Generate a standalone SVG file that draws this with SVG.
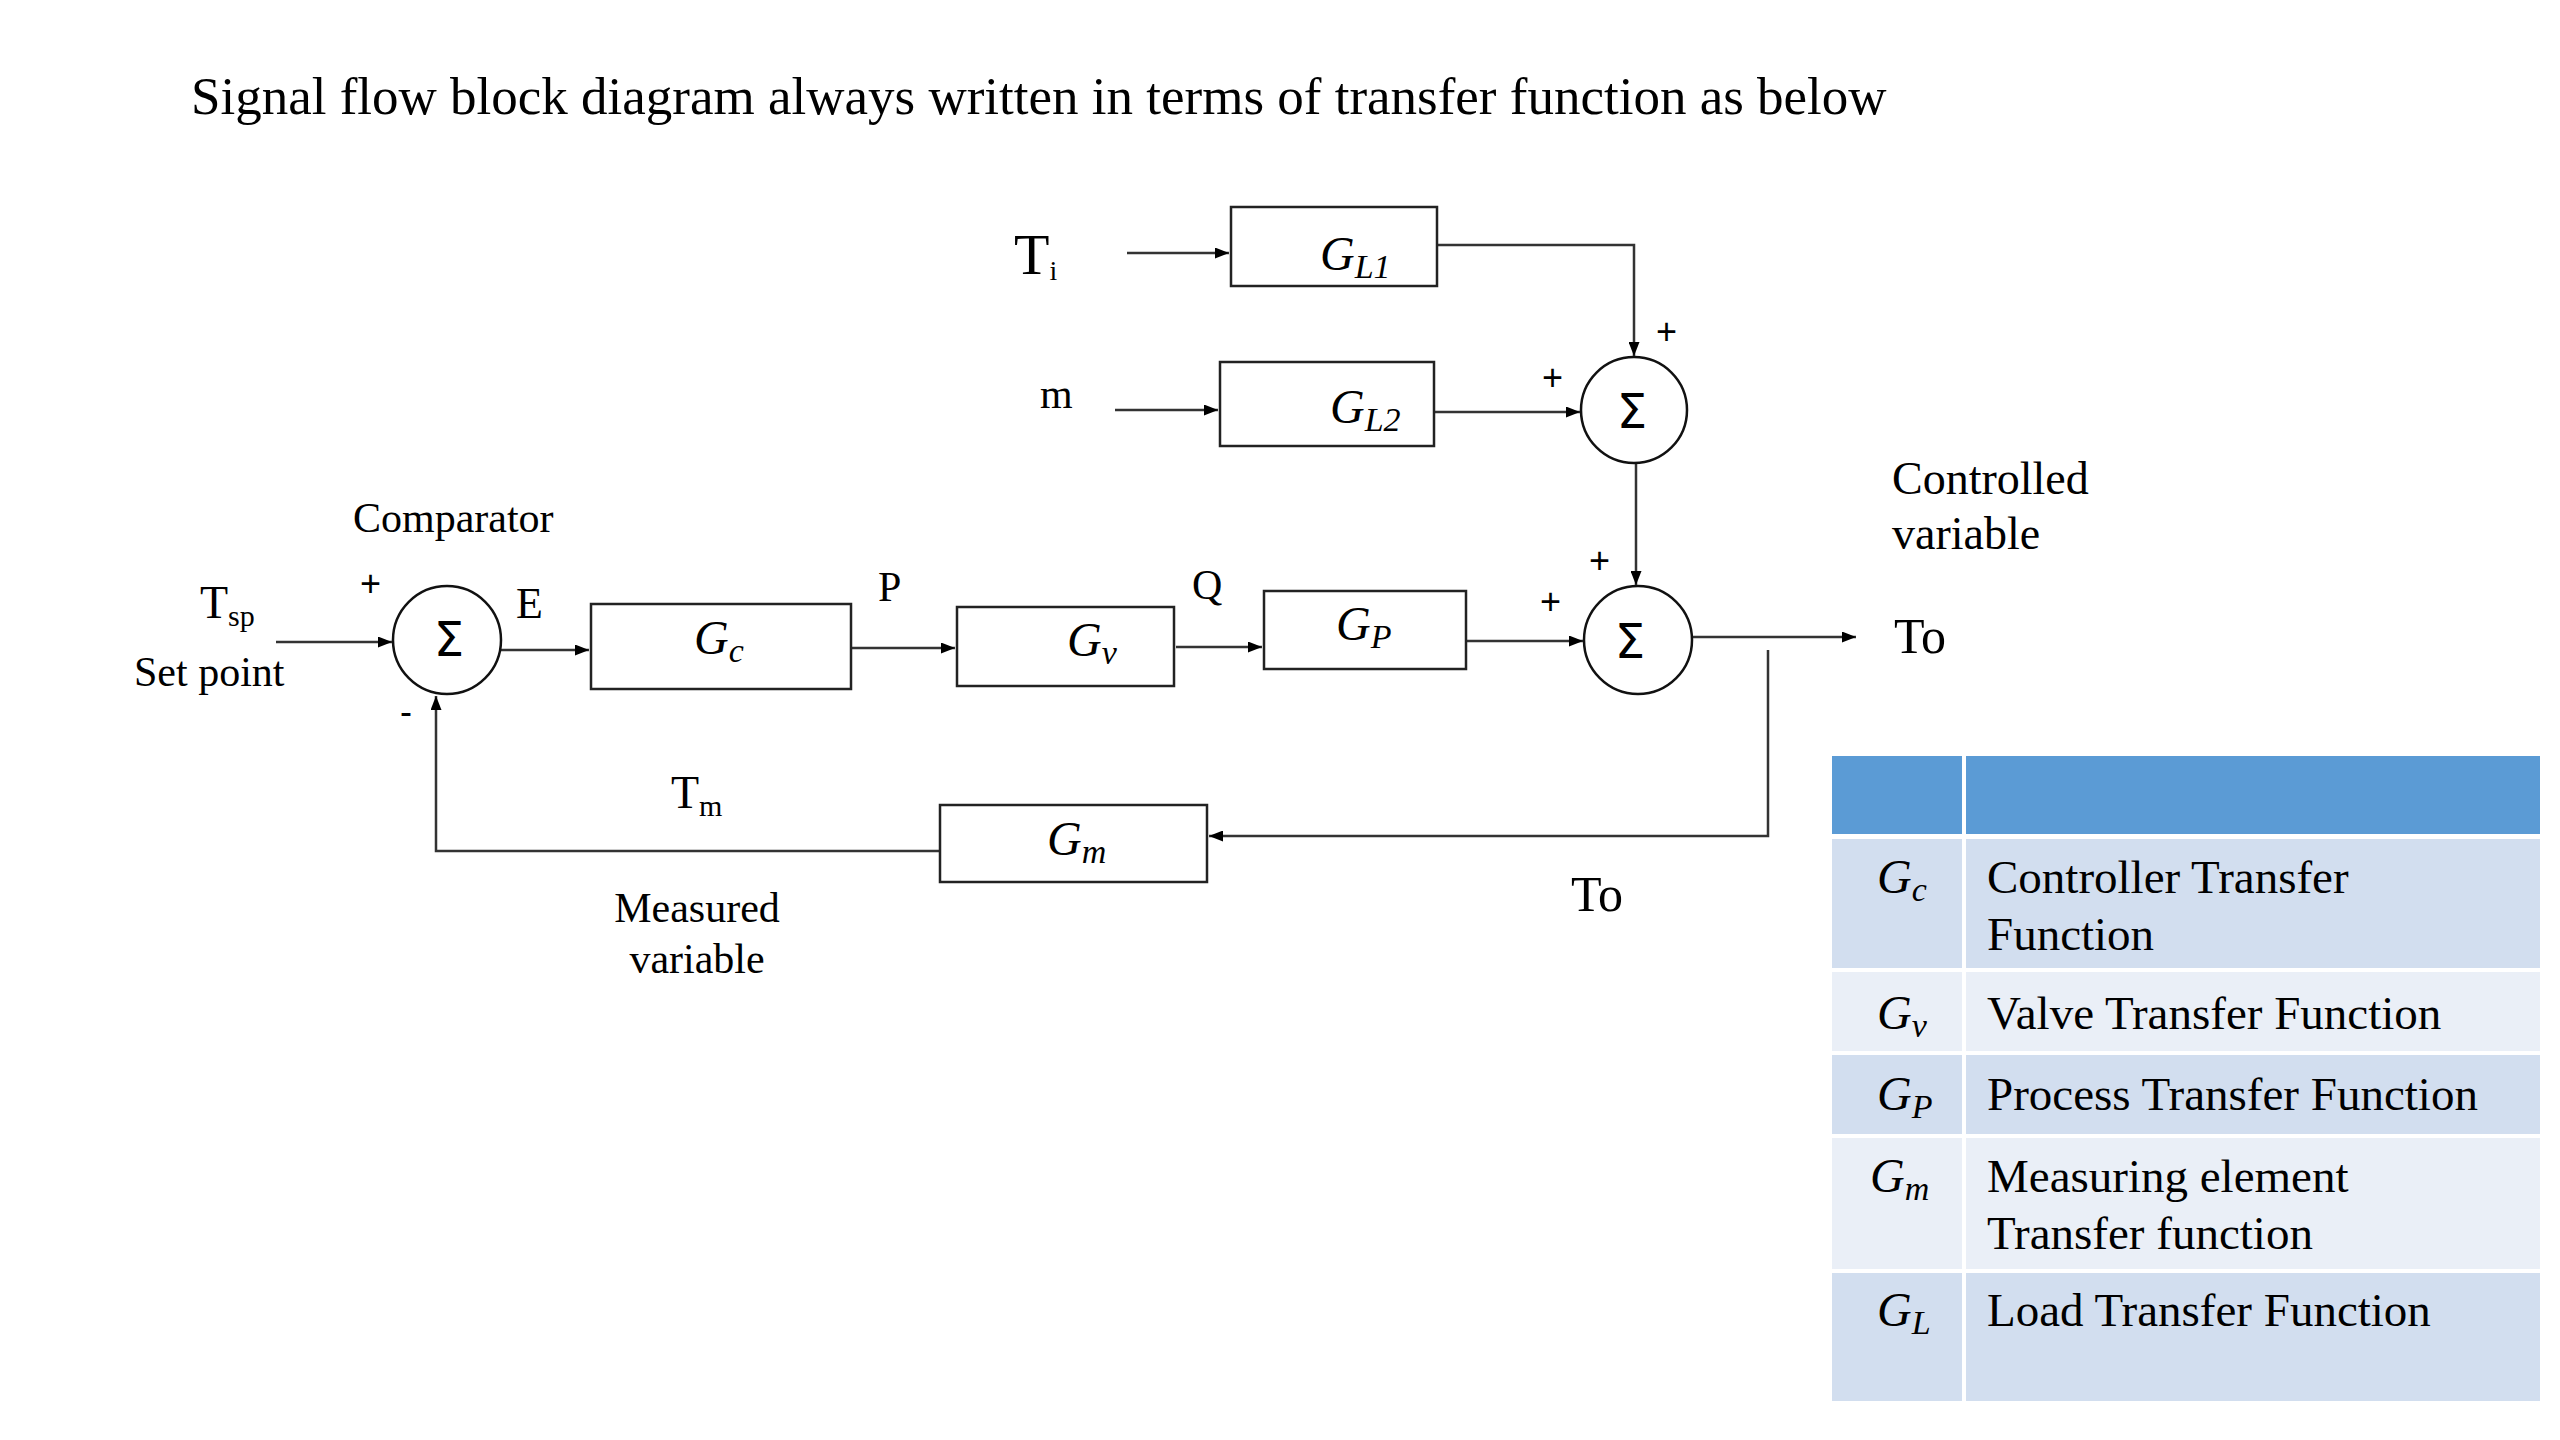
<svg xmlns="http://www.w3.org/2000/svg" width="2560" height="1440" viewBox="0 0 2560 1440">
<defs>
<marker id="ah" viewBox="0 0 14 11" refX="14" refY="5.5" markerWidth="14" markerHeight="11" markerUnits="userSpaceOnUse" orient="auto">
<path d="M0,0 L14,5.5 L0,11 Z" fill="#000"/>
</marker>
<style>
.t{font-family:"Liberation Serif","Times New Roman",serif;fill:#000}
.g{font-family:"Liberation Serif","Times New Roman",serif;font-style:italic;fill:#000}
.box{fill:#fff;stroke:#222;stroke-width:2.5}
.sum{fill:#fff;stroke:#111;stroke-width:2.5}
.ln{fill:none;stroke:#333;stroke-width:2.5}
.arr{fill:none;stroke:#333;stroke-width:2.5;marker-end:url(#ah)}
.pm{font-family:"Liberation Sans",Arial,sans-serif;font-size:36px;fill:#000}
.sg{font-family:"DejaVu Sans",sans-serif;font-size:48px;fill:#000}
.hd{fill:#5B9BD5}
.b1{fill:#D2DEEF}
.b2{fill:#EAEFF7}
</style>
</defs>
<rect width="2560" height="1440" fill="#fff"/>

<text class="t" x="191" y="114" font-size="53">Signal flow block diagram always written in terms of transfer function as below</text>

<g id="connectors">
<line class="arr" x1="1127" y1="253" x2="1229" y2="253"/>
<polyline class="arr" points="1437,245 1634,245 1634,356"/>
<line class="arr" x1="1115" y1="410" x2="1218" y2="410"/>
<line class="arr" x1="1434" y1="412" x2="1580" y2="412"/>
<line class="arr" x1="1636" y1="463" x2="1636" y2="585"/>
<line class="arr" x1="276" y1="642" x2="392" y2="642"/>
<line class="arr" x1="501" y1="650" x2="589" y2="650"/>
<line class="arr" x1="851" y1="648" x2="955" y2="648"/>
<line class="arr" x1="1176" y1="647" x2="1262" y2="647"/>
<line class="arr" x1="1466" y1="641" x2="1583" y2="641"/>
<line class="arr" x1="1692" y1="637" x2="1856" y2="637"/>
<polyline class="arr" points="1768,650 1768,836 1209,836"/>
<polyline class="arr" points="940,851 436,851 436,696"/>
</g>

<g id="node-GL1">
<rect class="box" x="1231" y="207" width="206" height="79"/>
<text class="g" x="1320" y="270" font-size="48">G<tspan font-size="34" dy="8">L1</tspan></text>
</g>
<g id="node-GL2">
<rect class="box" x="1220" y="362" width="214" height="84"/>
<text class="g" x="1330" y="423" font-size="48">G<tspan font-size="34" dy="8">L2</tspan></text>
</g>
<g id="node-sum1">
<circle class="sum" cx="1634" cy="410" r="53"/>
<text class="sg" x="1632" y="428" text-anchor="middle">Σ</text>
</g>
<g id="node-comparator">
<circle class="sum" cx="447" cy="640" r="54"/>
<text class="sg" x="449" y="656" text-anchor="middle">Σ</text>
</g>
<g id="node-Gc">
<rect class="box" x="591" y="604" width="260" height="85"/>
<text class="g" x="694" y="654" font-size="48">G<tspan font-size="34" dy="8">c</tspan></text>
</g>
<g id="node-Gv">
<rect class="box" x="957" y="607" width="217" height="79"/>
<text class="g" x="1067" y="656" font-size="48">G<tspan font-size="34" dy="8">v</tspan></text>
</g>
<g id="node-GP">
<rect class="box" x="1264" y="591" width="202" height="78"/>
<text class="g" x="1336" y="640" font-size="48">G<tspan font-size="34" dy="8">P</tspan></text>
</g>
<g id="node-sum2">
<circle class="sum" cx="1638" cy="640" r="54"/>
<text class="sg" x="1630" y="658" text-anchor="middle">Σ</text>
</g>
<g id="node-Gm">
<rect class="box" x="940" y="805" width="267" height="77"/>
<text class="g" x="1047" y="855" font-size="48">G<tspan font-size="34" dy="8">m</tspan></text>
</g>

<g id="labels">
<text class="t" x="1014" y="274" font-size="58">T<tspan font-size="28" dy="6">i</tspan></text>
<text class="t" x="1040" y="408" font-size="42">m</text>
<text class="pm" x="1656" y="344">+</text>
<text class="pm" x="1542" y="390">+</text>
<text class="pm" x="1589" y="573">+</text>
<text class="pm" x="1540" y="614">+</text>
<text class="pm" x="360" y="596">+</text>
<text class="pm" x="400" y="724">-</text>
<text class="t" x="353" y="532" font-size="42">Comparator</text>
<text class="t" x="200" y="618" font-size="46">T<tspan font-size="30" dy="8">sp</tspan></text>
<text class="t" x="134" y="686" font-size="42">Set point</text>
<text class="t" x="516" y="618" font-size="44">E</text>
<text class="t" x="878" y="601" font-size="42">P</text>
<text class="t" x="1192" y="599" font-size="42">Q</text>
<text class="t" x="1892" y="494" font-size="46">Controlled</text>
<text class="t" x="1892" y="549" font-size="46">variable</text>
<text class="t" x="1894" y="653" font-size="50">To</text>
<text class="t" x="671" y="808" font-size="46">T<tspan font-size="30" dy="8">m</tspan></text>
<text class="t" x="697" y="922" font-size="42" text-anchor="middle">Measured</text>
<text class="t" x="697" y="973" font-size="42" text-anchor="middle">variable</text>
<text class="t" x="1571" y="911" font-size="50">To</text>
</g>

<g id="table">
<rect class="hd" x="1832" y="756" width="130" height="78"/>
<rect class="hd" x="1966" y="756" width="574" height="78"/>
<rect class="b1" x="1832" y="839" width="130" height="129"/>
<rect class="b1" x="1966" y="839" width="574" height="129"/>
<rect class="b2" x="1832" y="972" width="130" height="79"/>
<rect class="b2" x="1966" y="972" width="574" height="79"/>
<rect class="b1" x="1832" y="1055" width="130" height="79"/>
<rect class="b1" x="1966" y="1055" width="574" height="79"/>
<rect class="b2" x="1832" y="1138" width="130" height="131"/>
<rect class="b2" x="1966" y="1138" width="574" height="131"/>
<rect class="b1" x="1832" y="1273" width="130" height="128"/>
<rect class="b1" x="1966" y="1273" width="574" height="128"/>
<text class="g" x="1877" y="893" font-size="48">G<tspan font-size="34" dy="8">c</tspan></text>
<text class="g" x="1877" y="1029" font-size="48">G<tspan font-size="34" dy="8">v</tspan></text>
<text class="g" x="1877" y="1110" font-size="48">G<tspan font-size="34" dy="8">P</tspan></text>
<text class="g" x="1870" y="1192" font-size="48">G<tspan font-size="34" dy="8">m</tspan></text>
<text class="g" x="1877" y="1326" font-size="48">G<tspan font-size="34" dy="8">L</tspan></text>
<text class="t" x="1987" y="893" font-size="47">Controller Transfer</text>
<text class="t" x="1987" y="950" font-size="47">Function</text>
<text class="t" x="1987" y="1029" font-size="47">Valve Transfer Function</text>
<text class="t" x="1987" y="1110" font-size="47">Process Transfer Function</text>
<text class="t" x="1987" y="1192" font-size="47">Measuring element</text>
<text class="t" x="1987" y="1249" font-size="47">Transfer function</text>
<text class="t" x="1987" y="1326" font-size="47">Load Transfer Function</text>
</g>
</svg>
